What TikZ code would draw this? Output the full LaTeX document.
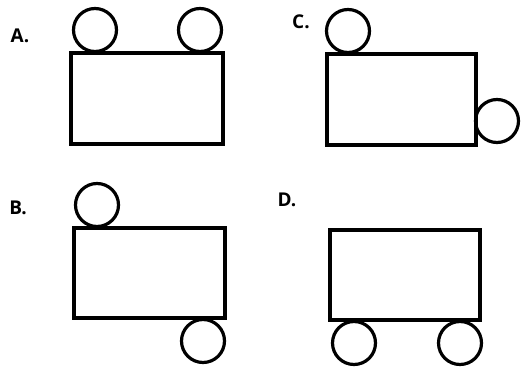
\documentclass[tikz,border=0pt]{standalone}
\usepackage{fontspec}
\setmainfont{Open Sans}
\begin{document}
\begin{tikzpicture}[x=1pt,y=-1pt,
  box/.style={draw,line width=3.2pt,inner sep=0pt},
  wheel/.style={draw,circle,line width=3.2pt,inner sep=0pt,minimum size=43pt},
  lbl/.style={font=\fontsize{19}{21}\selectfont\bfseries,inner sep=0pt}]
\useasboundingbox (0,0) rectangle (521,367);
% A
\node[lbl] (la) at (20,36) {A.};
\draw[box] (71,53) rectangle (223,144);
\node[wheel] (a1) at (95,30) {};
\node[wheel] (a2) at (200,30) {};
% C
\node[lbl] (lc) at (301,22) {C.};
\draw[box] (327,54) rectangle (476,145);
\node[wheel] (c1) at (348,31) {};
\node[wheel] (c2) at (497,121) {};
% B
\node[lbl] (lb) at (18,208) {B.};
\draw[box] (74,228) rectangle (225,318);
\node[wheel] (b1) at (97,205) {};
\node[wheel] (b2) at (203,341) {};
% D
\node[lbl] (ld) at (287,200) {D.};
\draw[box] (330,230) rectangle (480,320);
\node[wheel] (d1) at (354,343) {};
\node[wheel] (d2) at (460,343) {};
\end{tikzpicture}
\end{document}
